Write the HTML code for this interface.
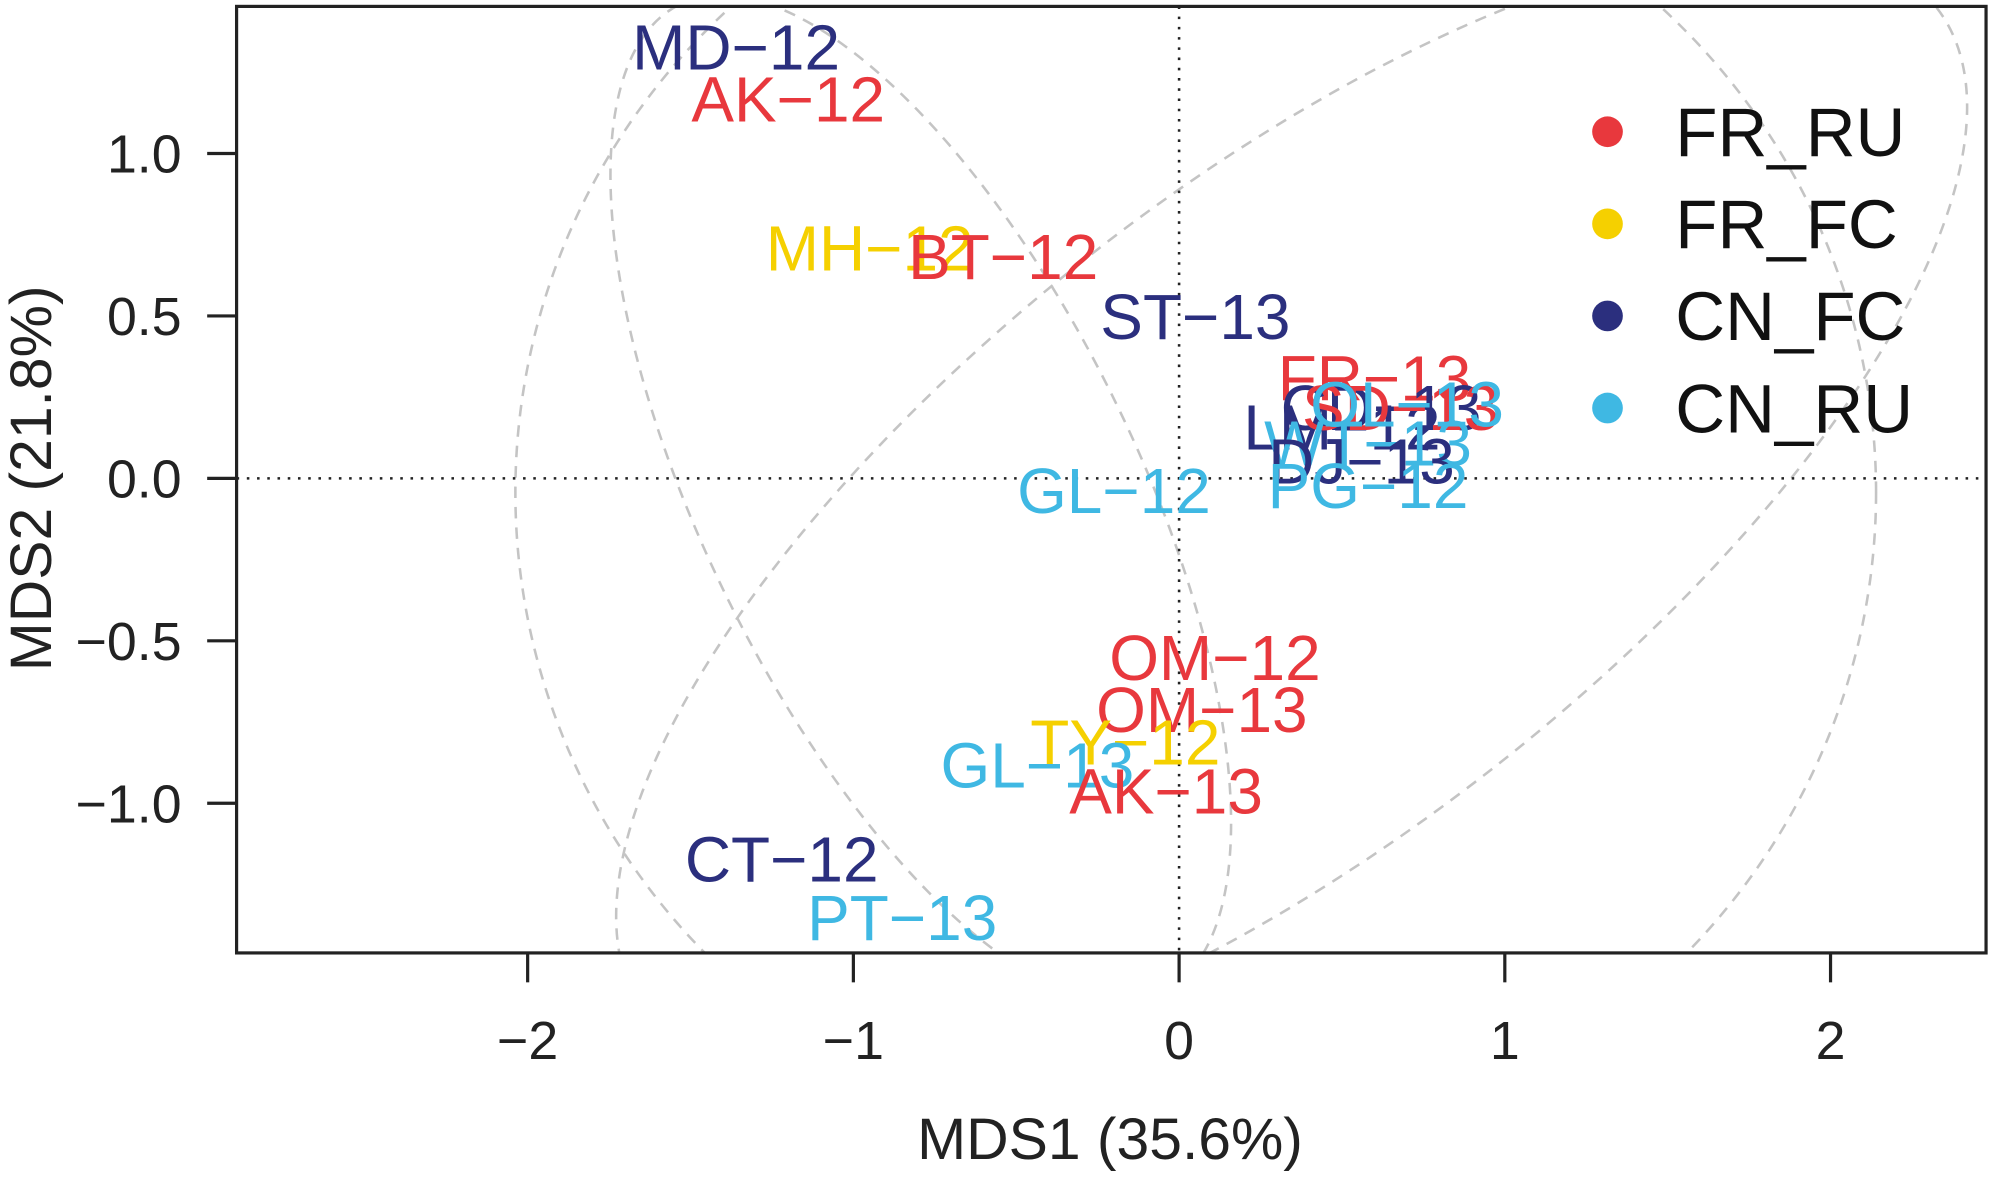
<!DOCTYPE html>
<html><head><meta charset="utf-8"><style>
html,body{margin:0;padding:0;background:#fff;width:1995px;height:1187px;overflow:hidden;}
svg{display:block;font-family:"Liberation Sans",Arial,sans-serif;}
</style></head><body>
<svg id="chart" width="1995" height="1187" viewBox="0 0 1560 928" preserveAspectRatio="none">
<rect x="0" y="0" width="1560" height="928" fill="#fff"/>
<svg x="185" y="5" width="1368" height="740" viewBox="185 5 1368 740" overflow="hidden">
<g fill="none" stroke="#c4c4c4" stroke-width="2" stroke-dasharray="9,7">
<ellipse cx="935" cy="385" rx="532" ry="520"/>
<ellipse cx="720" cy="390" rx="430" ry="170" transform="rotate(64 720 390)"/>
<ellipse cx="1010" cy="400" rx="640" ry="255" transform="rotate(-38 1010 400)"/>
</g>
<g id="zero"></g>
<g id="labels"></g>
</svg>
<g id="axes"></g>
<rect x="185" y="5" width="1368" height="740" fill="none" stroke="#222" stroke-width="2.5"/>
<text x="868" y="906" font-size="46" text-anchor="middle" fill="#222">MDS1 (35.6%)</text>
<text x="0" y="0" font-size="46" text-anchor="middle" fill="#222" transform="translate(40 374) rotate(-90)">MDS2 (21.8%)</text>
<g id="legend"></g>
</svg>
<script>
const xTicks=[-2,-1,0,1,2];
const xTickLabels=["\u22122","\u22121","0","1","2"];
const yTicks=[-1,-0.5,0,0.5,1];
const yTickLabels=["\u22121.0","\u22120.5","0.0","0.5","1.0"];
const groups=["FR_RU","FR_FC","CN_FC","CN_RU"];
const groupColors={"FR_RU":"#e8383d","FR_FC":"#f5d000","CN_FC":"#2b2f7e","CN_RU":"#3fb8e3"};
const sampleNames=["MD\u221212","AK\u221212","MH\u221212","BT\u221212","ST\u221213","FR\u221213","LM\u221212","CD\u221213","SD\u221213","OL\u221213","WT\u221213","DJ\u221213","PG\u221212","GL\u221212","OM\u221212","OM\u221213","TY\u221212","GL\u221213","AK\u221213","CT\u221212","PT\u221213"];
const sampleGroups=["CN_FC","FR_RU","FR_FC","FR_RU","CN_FC","FR_RU","CN_FC","CN_FC","FR_RU","CN_RU","CN_RU","CN_FC","CN_RU","CN_RU","FR_RU","FR_RU","FR_FC","CN_RU","FR_RU","CN_FC","CN_RU"];
const mds1=[-1.36,-1.20,-0.95,-0.54,0.05,0.60,0.50,0.62,0.68,0.70,0.58,0.56,0.58,-0.20,0.11,0.07,-0.165,-0.435,-0.04,-1.22,-0.85];
const mds2=[1.33,1.17,0.71,0.685,0.50,0.31,0.16,0.22,0.22,0.23,0.11,0.055,-0.02,-0.035,-0.55,-0.71,-0.81,-0.88,-0.96,-1.17,-1.35];
const NS="http://www.w3.org/2000/svg";
const sx=v=>922+v*254.7;
const sy=v=>374-v*254;
function mk(tag,attrs,parent,txt){const e=document.createElementNS(NS,tag);for(const k in attrs)e.setAttribute(k,attrs[k]);if(txt!==undefined)e.textContent=txt;parent.appendChild(e);return e;}
const ax=document.getElementById('axes');
const zr=document.getElementById('zero');
const vz=mk('line',{x1:sx(0),x2:sx(0),y1:5,y2:745,stroke:'#222','stroke-width':2,'stroke-dasharray':'2,6'},zr);


const hz=mk('line',{x1:185,x2:1553,y1:sy(0),y2:sy(0),stroke:'#222','stroke-width':2,'stroke-dasharray':'2,6'},zr);


xTicks.forEach((t,i)=>{
 const l=mk('line',{x1:sx(t),x2:sx(t),y1:745,y2:768,stroke:'#222','stroke-width':2.5},ax);
 
 
 const tx=mk('text',{x:sx(t),y:828,'font-size':42,'text-anchor':'middle',fill:'#222'},ax,xTickLabels[i]);
 
 
});
yTicks.forEach((t,i)=>{
 const l=mk('line',{x1:162,x2:185,y1:sy(t),y2:sy(t),stroke:'#222','stroke-width':2.5},ax);
 
 
 const tx=mk('text',{x:142,y:sy(t)+15,'font-size':42,'text-anchor':'end',fill:'#222'},ax,yTickLabels[i]);
 
 
});
const lg=document.getElementById('labels');
sampleNames.forEach((n,i)=>{
 const t=mk('text',{x:sx(mds1[i]),y:sy(mds2[i])+18,'font-size':50,'text-anchor':'middle',fill:groupColors[sampleGroups[i]]},lg,n);
 
 
});
const leg=document.getElementById('legend');
groups.forEach((g,i)=>{
 const y=103+i*72;
 const c=mk('circle',{cx:1257,cy:y,r:12,fill:groupColors[g]},leg);
 
 
 const t=mk('text',{x:1310,y:y+19,'font-size':54,fill:'#111'},leg,g);
 
 
});
</script>
</body></html>
